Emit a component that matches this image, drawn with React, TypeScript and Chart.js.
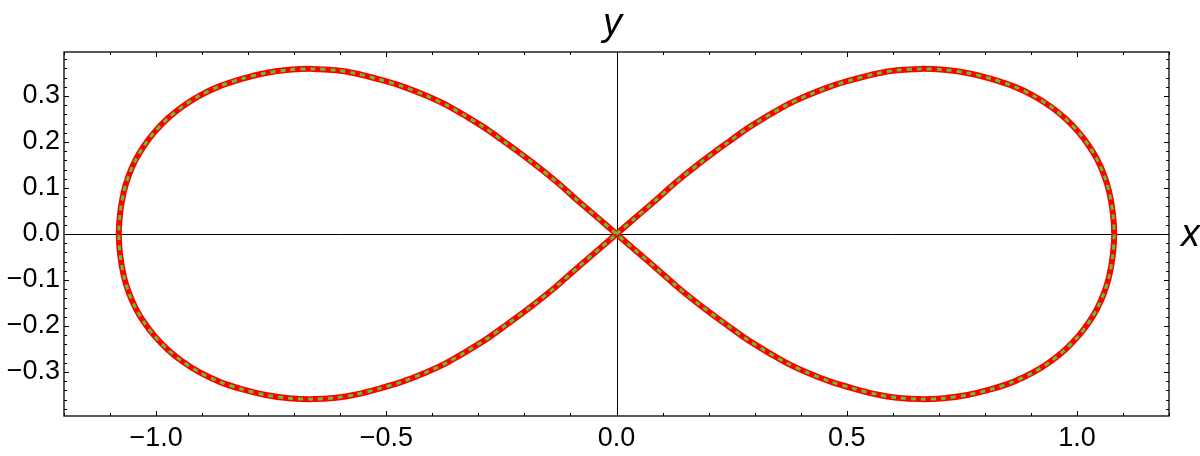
import React, { useEffect, useRef } from "react";
import { Chart, registerables } from "chart.js";

Chart.register(...registerables);

// Figure-eight curve (origin -> upper right -> lower right -> origin -> upper left -> lower left -> origin)
const curveX: number[] = [
  0,
  0.037, 0.080, 0.131, 0.182, 0.240, 0.291, 0.367, 0.414, 0.465, 0.515, 0.566, 0.609, 0.660, 0.711, 0.762, 0.812, 0.863, 0.907, 0.943, 0.975, 1.004, 1.026, 1.044, 1.059, 1.070, 1.078, 1.081,
  1.078, 1.070, 1.059, 1.044, 1.026, 1.004, 0.975, 0.943, 0.907, 0.863, 0.812, 0.762, 0.711, 0.660, 0.609, 0.566, 0.515, 0.465, 0.414, 0.367, 0.291, 0.240, 0.182, 0.131, 0.080, 0.037,
  0,
  -0.037, -0.080, -0.131, -0.182, -0.240, -0.291, -0.367, -0.414, -0.465, -0.515, -0.566, -0.609, -0.660, -0.711, -0.762, -0.812, -0.863, -0.907, -0.943, -0.975, -1.004, -1.026, -1.044, -1.059, -1.070, -1.078, -1.081,
  -1.078, -1.070, -1.059, -1.044, -1.026, -1.004, -0.975, -0.943, -0.907, -0.863, -0.812, -0.762, -0.711, -0.660, -0.609, -0.566, -0.515, -0.465, -0.414, -0.367, -0.291, -0.240, -0.182, -0.131, -0.080, -0.037,
  0,
];
const curveY: number[] = [
  0,
  0.032, 0.069, 0.114, 0.155, 0.198, 0.234, 0.279, 0.301, 0.321, 0.336, 0.349, 0.356, 0.359, 0.357, 0.350, 0.338, 0.321, 0.300, 0.277, 0.251, 0.221, 0.192, 0.162, 0.128, 0.092, 0.046, 0.000,
  -0.046, -0.092, -0.128, -0.162, -0.192, -0.221, -0.251, -0.277, -0.300, -0.321, -0.338, -0.350, -0.357, -0.359, -0.356, -0.349, -0.336, -0.321, -0.301, -0.279, -0.234, -0.198, -0.155, -0.114, -0.069, -0.032,
  0,
  0.032, 0.069, 0.114, 0.155, 0.198, 0.234, 0.279, 0.301, 0.321, 0.336, 0.349, 0.356, 0.359, 0.357, 0.350, 0.338, 0.321, 0.300, 0.277, 0.251, 0.221, 0.192, 0.162, 0.128, 0.092, 0.046, 0.000,
  -0.046, -0.092, -0.128, -0.162, -0.192, -0.221, -0.251, -0.277, -0.300, -0.321, -0.338, -0.350, -0.357, -0.359, -0.356, -0.349, -0.336, -0.321, -0.301, -0.279, -0.234, -0.198, -0.155, -0.114, -0.069, -0.032,
  0,
];

const xTickValues: number[] = [-1, -0.5, 0, 0.5, 1];
const yTickValues: number[] = [-0.3, -0.2, -0.1, 0, 0.1, 0.2, 0.3];
const xRange: number[] = [-1.2, 1.2];
const yRange: number[] = [-0.3957, 0.3957];
const xAxisTitle = "x";
const yAxisTitle = "y";

const fmt = (v: number) => (v < -1e-9 ? "\u2212" : "") + Math.abs(v).toFixed(1);

const framePlugin = {
  id: "mmaFrame",
  beforeDatasetsDraw(chart: any) {
    const { ctx, chartArea: a, scales } = chart;
    const x0 = Math.round(scales.x.getPixelForValue(0)) + 0.5;
    const y0 = Math.round(scales.y.getPixelForValue(0)) + 0.5;
    ctx.save();
    ctx.strokeStyle = "#000";
    ctx.lineWidth = 1;
    ctx.beginPath();
    ctx.moveTo(a.left, y0);
    ctx.lineTo(a.right, y0);
    ctx.moveTo(x0, a.top);
    ctx.lineTo(x0, a.bottom);
    ctx.stroke();
    ctx.restore();
  },
  afterDraw(chart: any) {
    const { ctx, chartArea: a, scales } = chart;
    const xs = scales.x;
    const ys = scales.y;
    ctx.save();
    ctx.strokeStyle = "#000";
    ctx.lineWidth = 1.3;
    ctx.strokeRect(a.left, a.top, a.right - a.left, a.bottom - a.top);
    ctx.lineWidth = 1;
    ctx.beginPath();
    for (let i = -12; i <= 12; i++) {
      const px = Math.round(xs.getPixelForValue(i / 10)) + 0.5;
      const len = i % 5 === 0 ? 5 : 3;
      ctx.moveTo(px, a.bottom);
      ctx.lineTo(px, a.bottom - len);
      ctx.moveTo(px, a.top);
      ctx.lineTo(px, a.top + len);
    }
    for (let i = -19; i <= 19; i++) {
      const py = Math.round(ys.getPixelForValue(i / 50)) + 0.5;
      const len = i % 5 === 0 ? 5 : 3;
      ctx.moveTo(a.left, py);
      ctx.lineTo(a.left + len, py);
      ctx.moveTo(a.right, py);
      ctx.lineTo(a.right - len, py);
    }
    ctx.stroke();

    const x0 = xs.getPixelForValue(0);
    const y0 = ys.getPixelForValue(0);
    ctx.fillStyle = "#000";
    ctx.font = "italic 38px 'Liberation Sans', Arial, sans-serif";
    ctx.textAlign = "center";
    ctx.textBaseline = "alphabetic";
    ctx.fillText(yAxisTitle, x0 - 4, 35);
    ctx.textAlign = "left";
    ctx.textBaseline = "middle";
    ctx.fillText(xAxisTitle, a.right + 12, y0 + 1);
    ctx.restore();
  },
};

export default function App() {
  const ref = useRef<HTMLCanvasElement | null>(null);

  useEffect(() => {
    if (!ref.current) return;
    const points = curveX.map((x, i) => ({ x, y: curveY[i] }));
    const tickFont = { family: "'Liberation Sans', Arial, sans-serif", size: 27 };
    const chart = new Chart(ref.current, {
      type: "scatter",
      data: {
        datasets: [
          {
            data: points,
            showLine: true,
            borderColor: "#5cc62a",
            borderWidth: 3,
            borderDash: [5, 5],
            pointRadius: 0,
            tension: 0.3,
            fill: false,
            order: 0,
          },
          {
            data: points,
            showLine: true,
            borderColor: "#ff0000",
            borderWidth: 6,
            pointRadius: 0,
            tension: 0.3,
            fill: false,
            order: 1,
          },
        ],
      },
      options: {
        responsive: false,
        animation: false,
        layout: { padding: { top: 52, right: 31, left: 0, bottom: 0 } },
        plugins: { legend: { display: false }, tooltip: { enabled: false } },
        scales: {
          x: {
            type: "linear",
            min: xRange[0],
            max: xRange[1],
            border: { display: false },
            grid: { display: false, drawTicks: false },
            afterBuildTicks: (s: any) => {
              s.ticks = xTickValues.map((v) => ({ value: v }));
            },
            afterFit: (s: any) => {
              s.height = 40;
            },
            ticks: {
              autoSkip: false,
              maxRotation: 0,
              padding: 6,
              color: "#000",
              font: tickFont,
              callback: (v: any) => fmt(Number(v)),
            },
          },
          y: {
            type: "linear",
            min: yRange[0],
            max: yRange[1],
            border: { display: false },
            grid: { display: false, drawTicks: false },
            afterBuildTicks: (s: any) => {
              s.ticks = yTickValues.map((v) => ({ value: v }));
            },
            afterFit: (s: any) => {
              s.width = 64;
            },
            ticks: {
              autoSkip: false,
              padding: 4,
              color: "#000",
              font: tickFont,
              callback: (v: any) => fmt(Number(v)),
            },
          },
        },
      },
      plugins: [framePlugin],
    } as any);
    return () => chart.destroy();
  }, []);

  return (
    <div style={{ position: "fixed", left: 0, top: 0, width: 1200, height: 456, background: "#fff" }}>
      <canvas ref={ref} width={1200} height={456} style={{ width: 1200, height: 456, display: "block" }} />
    </div>
  );
}
